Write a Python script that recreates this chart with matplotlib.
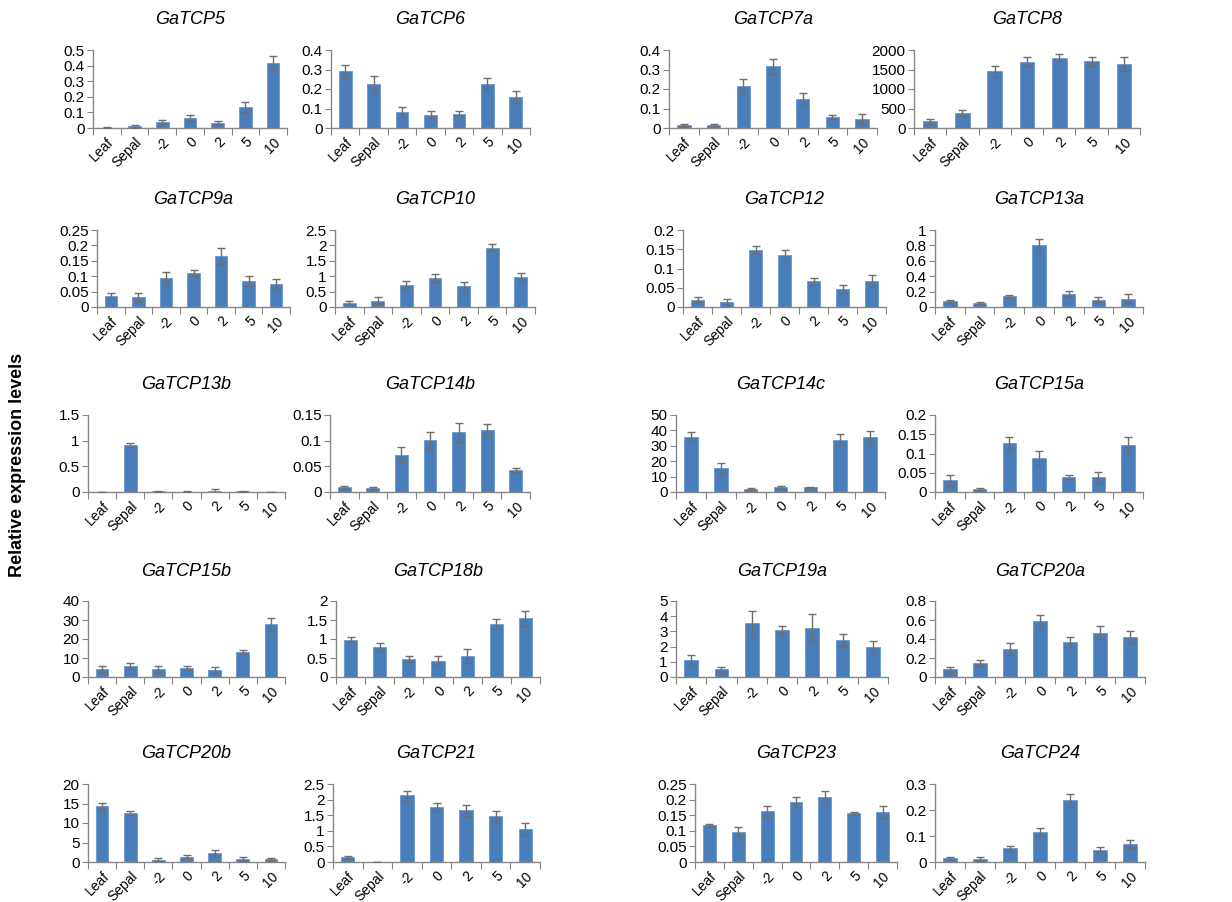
import matplotlib
matplotlib.use("Agg")
import matplotlib.pyplot as plt
import matplotlib.transforms as mtransforms
import numpy as np

plt.rcParams['font.family'] = ['Liberation Sans', 'DejaVu Sans']

categories = ["Leaf", "Sepal", "-2", "0", "2", "5", "10"]

GaTCP5 = [0.003, 0.010, 0.040, 0.065, 0.030, 0.135, 0.415]
GaTCP5_err = [0.002, 0.008, 0.012, 0.020, 0.013, 0.033, 0.045]
GaTCP6 = [0.290, 0.228, 0.083, 0.068, 0.072, 0.228, 0.160]
GaTCP6_err = [0.033, 0.037, 0.025, 0.017, 0.013, 0.026, 0.030]
GaTCP7a = [0.015, 0.015, 0.217, 0.316, 0.150, 0.057, 0.046]
GaTCP7a_err = [0.006, 0.007, 0.032, 0.040, 0.030, 0.010, 0.025]
GaTCP8 = [170, 380, 1450, 1700, 1800, 1710, 1630]
GaTCP8_err = [70, 80, 130, 110, 90, 120, 180]

GaTCP9a = [0.036, 0.031, 0.094, 0.110, 0.165, 0.085, 0.075]
GaTCP9a_err = [0.009, 0.016, 0.021, 0.010, 0.026, 0.017, 0.017]
GaTCP10 = [0.14, 0.21, 0.72, 0.94, 0.67, 1.93, 0.96]
GaTCP10_err = [0.06, 0.12, 0.12, 0.13, 0.14, 0.11, 0.13]
GaTCP12 = [0.019, 0.013, 0.148, 0.134, 0.067, 0.047, 0.067]
GaTCP12_err = [0.007, 0.009, 0.011, 0.014, 0.009, 0.011, 0.015]
GaTCP13a = [0.080, 0.050, 0.140, 0.800, 0.175, 0.095, 0.110]
GaTCP13a_err = [0.010, 0.010, 0.020, 0.080, 0.030, 0.035, 0.055]

GaTCP13b = [0.005, 0.910, 0.010, 0.005, 0.020, 0.010, 0.005]
GaTCP13b_err = [0.003, 0.040, 0.010, 0.005, 0.030, 0.010, 0.003]
GaTCP14b = [0.009, 0.008, 0.073, 0.101, 0.116, 0.121, 0.042]
GaTCP14b_err = [0.003, 0.002, 0.014, 0.016, 0.019, 0.012, 0.004]
GaTCP14c = [36.0, 15.5, 2.0, 3.0, 3.0, 34.0, 35.5]
GaTCP14c_err = [3.0, 3.5, 0.5, 1.2, 0.5, 3.5, 3.8]
GaTCP15a = [0.030, 0.007, 0.127, 0.088, 0.039, 0.038, 0.123]
GaTCP15a_err = [0.015, 0.004, 0.017, 0.018, 0.006, 0.014, 0.021]

GaTCP15b = [4.2, 5.8, 4.2, 4.6, 3.8, 13.2, 27.8]
GaTCP15b_err = [1.8, 1.8, 1.8, 1.0, 1.5, 1.2, 3.0]
GaTCP18b = [0.98, 0.79, 0.47, 0.43, 0.56, 1.39, 1.54]
GaTCP18b_err = [0.07, 0.10, 0.08, 0.11, 0.18, 0.13, 0.20]
GaTCP19a = [1.10, 0.50, 3.55, 3.10, 3.25, 2.45, 1.98]
GaTCP19a_err = [0.32, 0.17, 0.78, 0.27, 0.90, 0.38, 0.40]
GaTCP20a = [0.080, 0.150, 0.295, 0.590, 0.370, 0.465, 0.420]
GaTCP20a_err = [0.030, 0.030, 0.060, 0.065, 0.055, 0.070, 0.065]

GaTCP20b = [14.3, 12.5, 0.6, 1.4, 2.2, 0.7, 0.7]
GaTCP20b_err = [0.9, 0.5, 0.3, 0.5, 1.0, 0.5, 0.2]
GaTCP21 = [0.15, 0.0, 2.14, 1.76, 1.66, 1.46, 1.05]
GaTCP21_err = [0.05, 0.0, 0.15, 0.13, 0.18, 0.18, 0.20]
GaTCP23 = [0.118, 0.097, 0.162, 0.193, 0.208, 0.158, 0.160]
GaTCP23_err = [0.003, 0.014, 0.016, 0.016, 0.018, 0.003, 0.018]
GaTCP24 = [0.015, 0.012, 0.052, 0.115, 0.237, 0.048, 0.069]
GaTCP24_err = [0.003, 0.007, 0.010, 0.015, 0.025, 0.011, 0.014]

titles = ["GaTCP5", "GaTCP6", "GaTCP7a", "GaTCP8",
          "GaTCP9a", "GaTCP10", "GaTCP12", "GaTCP13a",
          "GaTCP13b", "GaTCP14b", "GaTCP14c", "GaTCP15a",
          "GaTCP15b", "GaTCP18b", "GaTCP19a", "GaTCP20a",
          "GaTCP20b", "GaTCP21", "GaTCP23", "GaTCP24"]
means = [GaTCP5, GaTCP6, GaTCP7a, GaTCP8,
         GaTCP9a, GaTCP10, GaTCP12, GaTCP13a,
         GaTCP13b, GaTCP14b, GaTCP14c, GaTCP15a,
         GaTCP15b, GaTCP18b, GaTCP19a, GaTCP20a,
         GaTCP20b, GaTCP21, GaTCP23, GaTCP24]
errors = [GaTCP5_err, GaTCP6_err, GaTCP7a_err, GaTCP8_err,
          GaTCP9a_err, GaTCP10_err, GaTCP12_err, GaTCP13a_err,
          GaTCP13b_err, GaTCP14b_err, GaTCP14c_err, GaTCP15a_err,
          GaTCP15b_err, GaTCP18b_err, GaTCP19a_err, GaTCP20a_err,
          GaTCP20b_err, GaTCP21_err, GaTCP23_err, GaTCP24_err]
y_max = [0.5, 0.4, 0.4, 2000,
         0.25, 2.5, 0.2, 1,
         1.5, 0.15, 50, 0.2,
         40, 2, 5, 0.8,
         20, 2.5, 0.25, 0.3]
y_step = [0.1, 0.1, 0.1, 500,
          0.05, 0.5, 0.05, 0.2,
          0.5, 0.05, 10, 0.05,
          10, 0.5, 1, 0.2,
          5, 0.5, 0.05, 0.1]

# layout (pixels): axes left/right per panel, top/bottom per row
W, H = 1232, 902
lefts = [[93, 331, 669, 914],
         [97, 335, 683, 935],
         [88, 330, 676, 935],
         [88, 336, 676, 935],
         [88, 333, 695, 935]]
rights = [[287, 530, 877, 1140],
          [290, 535, 886, 1143],
          [285, 530, 885, 1143],
          [285, 540, 888, 1145],
          [285, 540, 897, 1145]]
tops = [50, 230, 415, 601, 784]
bottoms = [128, 307, 492, 677, 862]

fig = plt.figure(figsize=(W / 100, H / 100), dpi=100)
bar_color = '#4a7ebb'
axis_color = '#868686'
x = np.arange(len(categories))
label_shift = mtransforms.ScaledTranslation(5 / 100, 0, fig.dpi_scale_trans)

for i in range(20):
    r, c = divmod(i, 4)
    l, rr = lefts[r][c], rights[r][c]
    t, b = tops[r], bottoms[r]
    ax = fig.add_axes([l / W, 1 - b / H, (rr - l) / W, (b - t) / H])
    ax.bar(x, means[i], width=0.45, color=bar_color, edgecolor='#5b8fcf',
           linewidth=0.5, zorder=2)
    ax.errorbar(x, means[i], yerr=errors[i], fmt='none', ecolor='#6e6e6e',
                elinewidth=1, capsize=3, capthick=1, zorder=3)
    ax.set_xlim(-0.5, len(categories) - 0.5)
    ax.set_ylim(0, y_max[i])
    yt = np.arange(0, y_max[i] + y_step[i] / 2, y_step[i])
    ax.set_yticks(yt)
    ax.set_yticklabels([f"{v:g}" for v in np.round(yt, 4)], fontsize=11)
    ax.set_xticks(np.arange(-0.5, len(categories), 1.0))
    ax.set_xticklabels([])
    ax.set_xticks(x, minor=True)
    labs = ax.set_xticklabels(categories, minor=True, rotation=45, ha='right',
                              rotation_mode='anchor', fontsize=10)
    for lab in labs:
        lab.set_transform(lab.get_transform() + label_shift)
    ax.tick_params(axis='x', which='major', length=5, color=axis_color,
                   direction='out')
    ax.tick_params(axis='x', which='minor', length=0, pad=5)
    ax.tick_params(axis='y', length=4, color=axis_color, direction='out', pad=2)
    for s in ['top', 'right']:
        ax.spines[s].set_visible(False)
    for s in ['left', 'bottom']:
        ax.spines[s].set_color(axis_color)
        ax.spines[s].set_linewidth(1)
    ax.set_facecolor('none')
    fig.text((l + rr) / 2 / W, 1 - (t - 30) / H, titles[i], ha='center',
             va='center', fontsize=13, style='italic')

fig.text(18 / W, 1 - 465 / H, "Relative expression levels", rotation=90,
         ha='center', va='center', fontsize=13, fontweight='bold')

fig.savefig("out.png", dpi=100, facecolor='white')
